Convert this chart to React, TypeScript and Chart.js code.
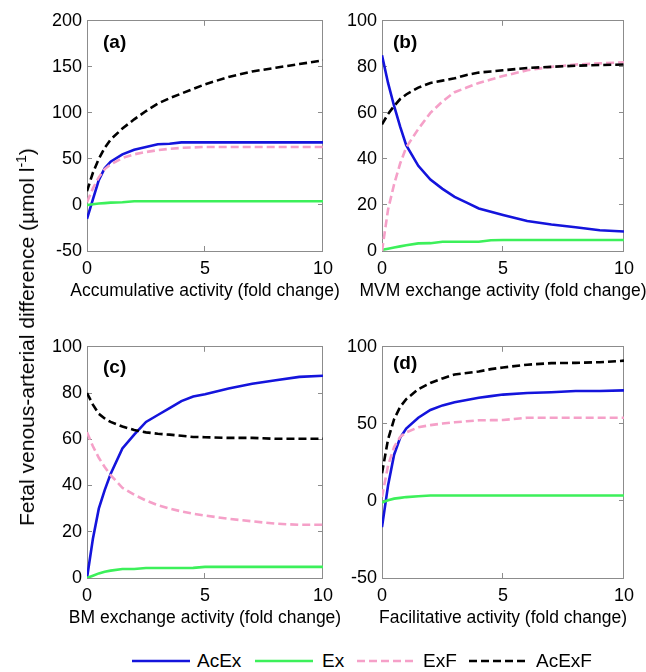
import React, { useEffect, useRef } from 'react';
import { Chart, registerables } from 'chart.js';

Chart.register(...registerables);

const FONT = "'Liberation Sans', Arial, Helvetica, sans-serif";
const GRAY = '#8c8c8c';

// shared x grid (fold change)
const xValues = [0, 0.25, 0.5, 0.75, 1, 1.5, 2, 2.5, 3, 3.5, 4, 4.5, 5, 6, 7, 8, 9, 10];

const seriesNames = ['AcEx', 'Ex', 'ExF', 'AcExF'];

// panel (a) Accumulative activity
const aAcEx = [-15, 6, 27, 40, 47, 55, 60, 63, 66, 66.5, 68, 68, 68, 68, 68, 68, 68, 68];
const aEx = [0, 0.8, 1.5, 2, 2.5, 3, 4, 4, 4, 4, 4, 4, 4, 4, 4, 4, 4, 4];
const aExF = [3, 18, 30, 39, 44, 51, 55, 57.5, 59.5, 61, 62, 62.5, 63, 63, 63, 63, 63, 63];
const aAcExF = [15, 35, 50, 62, 71, 83, 93, 102, 110, 116, 121, 126, 131, 139, 145, 149, 153, 157];

// panel (b) MVM exchange activity
const bAcEx = [85, 73, 63, 54, 46, 37, 31, 27, 23.5, 21, 18.5, 17, 15.6, 13, 11.5, 10.3, 9, 8.5];
const bEx = [0.5, 1, 1.5, 2, 2.5, 3.3, 3.4, 4, 4, 4, 4, 4.7, 4.8, 4.8, 4.8, 4.8, 4.8, 4.8];
const bExF = [0, 18, 29, 38, 45, 53, 60, 65, 69, 71, 73, 74.5, 76, 78.5, 80, 81, 81.5, 82];
const bAcExF = [55, 59.5, 63, 66, 68, 71, 73, 74, 75, 76.5, 77.5, 78, 78.5, 79.5, 80, 80.5, 80.8, 81];

// panel (c) BM exchange activity
const cAcEx = [0, 17, 30, 38, 45, 56, 62, 67.5, 70.5, 73.5, 76.5, 78.5, 79.5, 82, 84, 85.5, 87, 87.5];
const cEx = [0, 1, 2, 2.7, 3.2, 3.9, 3.9, 4.3, 4.3, 4.3, 4.3, 4.4, 4.8, 4.8, 4.8, 4.8, 4.8, 4.8];
const cExF = [63, 57, 52, 48, 44.5, 39, 36, 33.5, 31.5, 30, 28.8, 27.8, 27, 25.6, 24.5, 23.5, 23, 23];
const cAcExF = [80, 75, 71, 69, 67.5, 65.5, 64, 63, 62.4, 62, 61.5, 61, 60.9, 60.6, 60.6, 60.2, 60.2, 60.2];

// panel (d) Facilitative activity
const dAcEx = [-17, 10, 30, 41, 47, 54, 59, 62, 64, 65.5, 67, 68, 69, 70, 70.5, 71.3, 71.3, 71.7];
const dEx = [-1, 0.5, 1.5, 2, 2.5, 3, 3.5, 3.5, 3.5, 3.5, 3.5, 3.5, 3.5, 3.5, 3.5, 3.5, 3.5, 3.5];
const dExF = [2.5, 23, 35, 41.5, 44.5, 47.8, 49.2, 50.2, 51, 51.7, 52.3, 52.4, 52.5, 54, 54, 54, 54, 54];
const dAcExF = [18, 40, 53, 61, 66, 72.5, 76.5, 79.5, 82, 83, 84, 85.5, 86.6, 88.4, 89.4, 89.6, 90, 91];

const panelSeries = [
  [aAcEx, aEx, aExF, aAcExF],
  [bAcEx, bEx, bExF, bAcExF],
  [cAcEx, cEx, cExF, cAcExF],
  [dAcEx, dEx, dExF, dAcExF],
];

const xTitles = [
  'Accumulative activity (fold change)',
  'MVM exchange activity (fold change)',
  'BM exchange activity (fold change)',
  'Facilitative activity (fold change)',
];
const panelLabels = ['(a)', '(b)', '(c)', '(d)'];
const yMins = [-50, 0, 0, -50];
const yMaxs = [200, 100, 100, 100];
const ySteps = [50, 20, 20, 50];
const xMin = 0;
const xMax = 10;
const xStep = 5;

const seriesColors = ['#1414dc', '#3cf05a', '#f5a0c8', '#000000'];
const seriesDash: number[][] = [[], [], [8, 4], [8, 4]];

// draws the bold panel tag and the (unsqueezed) x-axis title
const panelTextPlugin = {
  id: 'panelText',
  afterDraw(chart: any, _args: any, opts: any) {
    const { ctx, chartArea } = chart;
    ctx.save();
    ctx.fillStyle = '#000';
    ctx.textBaseline = 'middle';
    ctx.textAlign = 'left';
    ctx.font = `bold 19px ${FONT}`;
    ctx.fillText(opts.tag, chartArea.left + opts.dx, chartArea.top + opts.dy);
    ctx.textAlign = 'center';
    ctx.font = `17.5px ${FONT}`;
    ctx.fillText(opts.title, (chartArea.left + chartArea.right) / 2, chartArea.bottom + 40);
    ctx.restore();
  },
};

type PanelProps = {
  index: number;
  left: number;
  top: number;
  width: number;
  height: number;
  padRight: number;
  labelDx: number;
  labelDy: number;
};

function Panel({ index, left, top, width, height, padRight, labelDx, labelDy }: PanelProps) {
  const ref = useRef<HTMLCanvasElement | null>(null);

  useEffect(() => {
    if (!ref.current) return;
    const series = panelSeries[index];
    const datasets = series.map((vals, si) => ({
      label: seriesNames[si],
      data: xValues.map((x, i) => ({ x, y: vals[i] })),
      borderColor: seriesColors[si],
      backgroundColor: seriesColors[si],
      borderWidth: 2.6,
      borderDash: seriesDash[si],
      pointRadius: 0,
      tension: 0,
      fill: false,
      order: 4 - si,
    }));

    const gridCfg = { drawOnChartArea: false, drawTicks: true, tickLength: -5, color: GRAY, lineWidth: 1 };
    const borderCfg = { display: true, color: GRAY, width: 1 };

    const chart = new Chart(ref.current, {
      type: 'line',
      data: { datasets },
      options: {
        animation: false,
        responsive: false,
        devicePixelRatio: 1,
        layout: { padding: { top: 11, right: padRight, left: 0, bottom: 0 } },
        plugins: {
          legend: { display: false },
          tooltip: { enabled: false },
          panelText: { tag: panelLabels[index], title: xTitles[index], dx: labelDx, dy: labelDy },
        } as any,
        scales: {
          x: {
            type: 'linear',
            position: 'bottom',
            min: xMin,
            max: xMax,
            ticks: { stepSize: xStep, color: '#000', font: { size: 18, family: FONT }, padding: 12, maxRotation: 0 },
            grid: gridCfg,
            border: borderCfg,
            afterFit: (s: any) => { s.height = 59; },
          },
          x2: {
            type: 'linear',
            position: 'top',
            min: xMin,
            max: xMax,
            ticks: { stepSize: xStep, display: false },
            grid: gridCfg,
            border: borderCfg,
            afterFit: (s: any) => { s.height = 0; },
          },
          y: {
            type: 'linear',
            position: 'left',
            min: yMins[index],
            max: yMaxs[index],
            ticks: { stepSize: ySteps[index], color: '#000', font: { size: 18, family: FONT }, padding: 10 },
            grid: gridCfg,
            border: borderCfg,
            afterFit: (s: any) => { s.width = 57; },
          },
          y2: {
            type: 'linear',
            position: 'right',
            min: yMins[index],
            max: yMaxs[index],
            ticks: { stepSize: ySteps[index], display: false },
            grid: gridCfg,
            border: borderCfg,
            afterFit: (s: any) => { s.width = 0; },
          },
        } as any,
      },
      plugins: [panelTextPlugin as any],
    });
    return () => chart.destroy();
  }, [index, padRight, labelDx, labelDy]);

  return (
    <canvas
      ref={ref}
      width={width}
      height={height}
      style={{ position: 'absolute', left, top, width, height }}
    />
  );
}

function LegendLine({ x, color, dash }: { x: number; color: string; dash: number[] }) {
  return (
    <svg
      width={58}
      height={10}
      style={{ position: 'absolute', left: x, top: 656 }}
    >
      <line
        x1={0}
        y1={5}
        x2={58}
        y2={5}
        stroke={color}
        strokeWidth={2.6}
        strokeDasharray={dash.length ? dash.join(' ') : undefined}
      />
    </svg>
  );
}

const legendLineX = [132, 255, 357, 469];
const legendTextX = [197, 322, 423, 536];

export default function App() {
  return (
    <div
      style={{
        position: 'absolute',
        left: 0,
        top: 0,
        width: 646,
        height: 672,
        background: '#fff',
        overflow: 'hidden',
        fontFamily: FONT,
      }}
    >
      <Panel index={0} left={30} top={0} width={315} height={310} padRight={15} labelDx={16} labelDy={22} />
      <Panel index={1} left={325} top={0} width={321} height={310} padRight={20} labelDx={11} labelDy={22} />
      <Panel index={2} left={30} top={326} width={315} height={311} padRight={15} labelDx={16} labelDy={21} />
      <Panel index={3} left={325} top={326} width={321} height={311} padRight={20} labelDx={11} labelDy={17} />

      <div
        style={{
          position: 'absolute',
          left: 27,
          top: 337,
          transform: 'translate(-50%, -50%) rotate(-90deg)',
          whiteSpace: 'nowrap',
          fontSize: 21,
          lineHeight: '24px',
          color: '#000',
        }}
      >
        Fetal venous-arterial difference (µmol l<sup style={{ fontSize: 14, lineHeight: 0 }}>-1</sup>)
      </div>

      {seriesNames.map((name, i) => (
        <React.Fragment key={name}>
          <LegendLine x={legendLineX[i]} color={seriesColors[i]} dash={seriesDash[i]} />
          <div
            style={{
              position: 'absolute',
              left: legendTextX[i],
              top: 661,
              transform: 'translateY(-50%)',
              fontSize: 19,
              lineHeight: '22px',
              color: '#000',
              whiteSpace: 'nowrap',
            }}
          >
            {name}
          </div>
        </React.Fragment>
      ))}
    </div>
  );
}
